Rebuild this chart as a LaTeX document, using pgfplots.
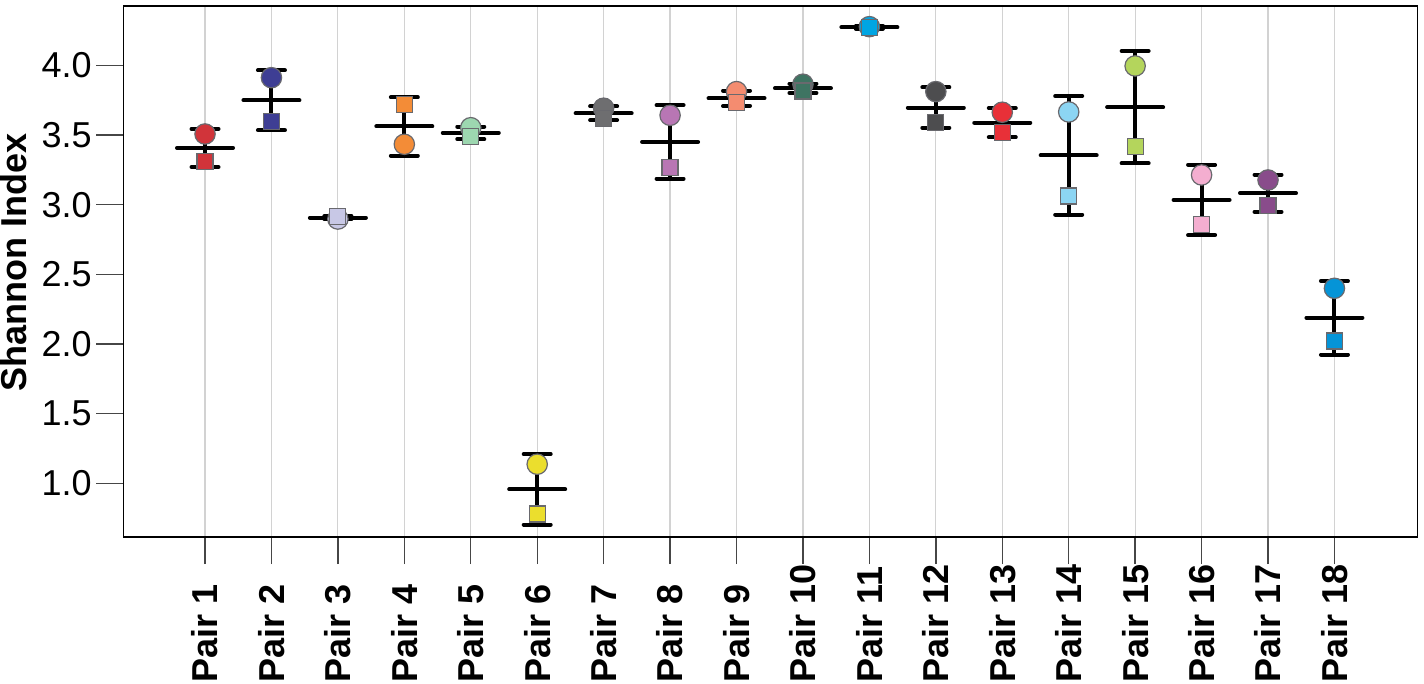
\documentclass[border=0pt]{standalone}
\usepackage{pgfplots}
\usepackage{pgfplotstable}
\pgfplotsset{compat=1.18}
\usepackage{fontspec}
\setmainfont{Liberation Sans}
\definecolor{mkgray}{RGB}{105,105,110}
\definecolor{gridgray}{RGB}{210,210,210}
\definecolor{tickgray}{RGB}{70,70,70}
\definecolor{c1}{RGB}{209,52,58}
\definecolor{c2}{RGB}{62,62,148}
\definecolor{c3}{RGB}{200,200,230}
\definecolor{c4}{RGB}{243,140,55}
\definecolor{c5}{RGB}{157,215,176}
\definecolor{c6}{RGB}{235,222,45}
\definecolor{c7}{RGB}{110,110,112}
\definecolor{c8}{RGB}{184,118,180}
\definecolor{c9}{RGB}{244,140,112}
\definecolor{c10}{RGB}{62,116,98}
\definecolor{c11}{RGB}{0,165,227}
\definecolor{c12}{RGB}{77,77,79}
\definecolor{c13}{RGB}{232,48,56}
\definecolor{c14}{RGB}{140,213,243}
\definecolor{c15}{RGB}{180,213,92}
\definecolor{c16}{RGB}{244,174,208}
\definecolor{c17}{RGB}{137,76,139}
\definecolor{c18}{RGB}{5,148,215}

\pgfplotstableread{
x circ sq mean err c
1 3.507 3.308 3.407 0.137 p1
2 3.911 3.595 3.749 0.215 p2
3 2.897 2.914 2.907 0.012 p3
4 3.433 3.720 3.561 0.209 p4
5 3.552 3.488 3.515 0.045 p5
6 1.138 0.781 0.958 0.253 p6
7 3.692 3.620 3.656 0.050 p7
8 3.641 3.265 3.450 0.264 p8
9 3.811 3.735 3.763 0.055 p9
10 3.864 3.816 3.835 0.034 p10
11 4.277 4.268 4.273 0.010 p11
12 3.811 3.588 3.696 0.145 p12
13 3.663 3.517 3.588 0.105 p13
14 3.665 3.062 3.354 0.425 p14
15 3.995 3.416 3.699 0.403 p15
16 3.213 2.859 3.034 0.252 p16
17 3.177 2.993 3.082 0.133 p17
18 2.400 2.022 2.189 0.264 p18
}\data

\pgfplotsset{pairclasses/.style={scatter/classes={
  p1={fill=c1}, p2={fill=c2}, p3={fill=c3}, p4={fill=c4}, p5={fill=c5}, p6={fill=c6},
  p7={fill=c7}, p8={fill=c8}, p9={fill=c9}, p10={fill=c10}, p11={fill=c11}, p12={fill=c12},
  p13={fill=c13}, p14={fill=c14}, p15={fill=c15}, p16={fill=c16}, p17={fill=c17}, p18={fill=c18}}}}

\begin{document}
\fontsize{18}{21.6}\selectfont
\begin{tikzpicture}
\begin{axis}[
  scale only axis,
  width=647pt, height=265.5pt,
  xmin=-0.227, xmax=19.25,
  ymin=0.616, ymax=4.425,
  axis line style={black, line width=0.9pt},
  xtick={1,...,18},
  xticklabels={Pair 1,Pair 2,Pair 3,Pair 4,Pair 5,Pair 6,Pair 7,Pair 8,Pair 9,Pair 10,Pair 11,Pair 12,Pair 13,Pair 14,Pair 15,Pair 16,Pair 17,Pair 18},
  ytick={1.0,1.5,2.0,2.5,3.0,3.5,4.0},
  yticklabel style={/pgf/number format/fixed, /pgf/number format/fixed zerofill, /pgf/number format/precision=1, /pgf/number format/assume math mode=true, inner sep=0pt, xshift=-2.25pt},
  xticklabel style={rotate=90, anchor=west, inner sep=0pt, font=\bfseries},
  xticklabel shift=59.5pt,
  tick align=outside,
  major tick length=13.5pt,
  tick style={tickgray, line width=0.7pt},
  xtick pos=bottom, ytick pos=left,
  xmajorgrids,
  grid style={gridgray, line width=0.6pt},
  every axis y label/.style={at={([xshift=-61.75pt]axis description cs:0,0.517)}, rotate=90, anchor=north, inner sep=0pt, font=\bfseries},
  ylabel={Shannon Index},
]
% error bars with caps and mean line
\addplot[only marks, mark=-, mark size=14pt, mark options={black, line width=2pt, line cap=round},
  error bars/.cd, y dir=both, y explicit,
  error mark=-,
  error bar style={black, line width=2pt},
  error mark options={black, line width=2pt, line cap=round, mark size=6.75pt, rotate=90}]
  table[x=x, y=mean, y error=err]{\data};
% circles
\addplot[scatter, only marks, mark=*, mark size=5.1pt, scatter src=explicit symbolic,
  pairclasses, mark options={draw=mkgray, line width=0.6pt}]
  table[x=x, y=circ, meta=c]{\data};
% squares
\addplot[scatter, only marks, mark=square*, mark size=4pt, scatter src=explicit symbolic,
  pairclasses, mark options={draw=mkgray, line width=0.6pt}]
  table[x=x, y=sq, meta=c]{\data};
\end{axis}
\pgfresetboundingbox
\useasboundingbox ([shift={(-61.75pt,-73pt)}]current axis.south west) rectangle ([shift={(3.25pt,3pt)}]current axis.north east);
\end{tikzpicture}
\end{document}
